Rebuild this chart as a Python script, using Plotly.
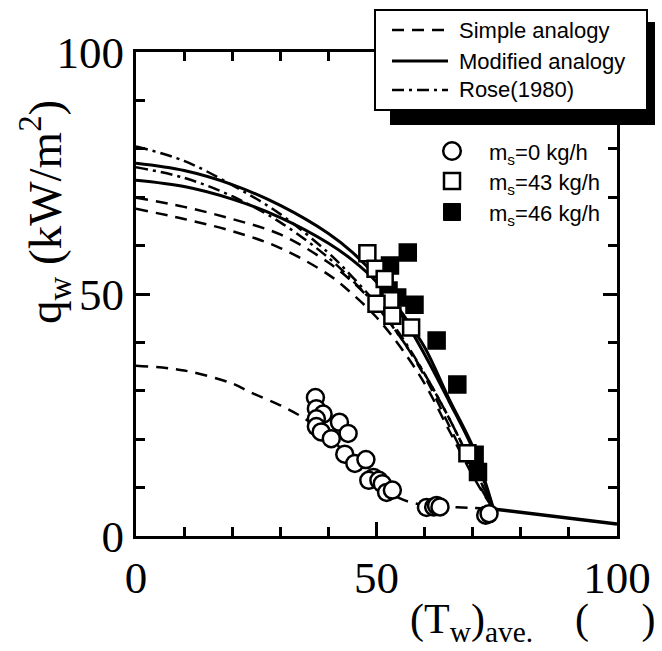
import plotly.graph_objects as go

# ---------------- data ----------------
# upper model curves share this x grid (deg C)
x_up = [0, 10, 20, 30, 40, 45, 50, 55, 60, 65, 70, 72.5, 74.3]
simple_1 = [69.9, 68, 65.5, 62.3, 56.5, 52.5, 47.5, 41, 33, 23, 13, 8.5, 5.6]
simple_2 = [67.6, 65.5, 63, 59.5, 54, 50, 45.2, 39, 31.5, 22, 12.5, 8.3, 5.6]
modified_1 = [77, 75.5, 72.6, 68.3, 62.5, 58.6, 53.5, 46.5, 39, 28.5, 18.5, 11.5, 5.6]
modified_2 = [73.5, 72.2, 69.6, 65.8, 60.5, 57, 52.5, 46, 37.5, 28, 18, 11, 5.6]
rose_1 = [80.5, 77.5, 72.5, 66.5, 58.5, 53.5, 48, 41.5, 33.5, 24.5, 14.5, 9.5, 5.6]
rose_2 = [76.2, 74, 70.2, 64.8, 57.5, 52.8, 47.5, 41, 33.5, 24.5, 14.5, 9.5, 5.6]

# lower simple-analogy curve (m_s = 0)
x_low = [0, 10, 20, 24, 30, 35, 40, 45, 50, 55, 60, 65, 70, 74.3]
simple_low = [35.2, 34.2, 31.5, 29.6, 27, 24.3, 20.5, 15.8, 11.2, 7.7, 6.4, 6.0, 5.8, 5.6]

# common high-temperature branch
tail_x = [74.3, 100]
tail_y = [5.6, 2.5]

# measurements
ms0_x = [37.3, 37.5, 38.9, 37.5, 37.5, 38.5, 42.3, 44.1, 40.6, 43.4, 45.5, 47.8, 49.4, 48.4,
         50.5, 51.2, 52.1, 53.3, 60.4, 61.9, 62.5, 63.2, 72.7, 73.4]
ms0_y = [28.6, 26.3, 25.2, 24.2, 22.6, 21.5, 23.5, 21.2, 20.1, 16.9, 15.0, 15.8, 12.1, 11.5,
         11.5, 10.8, 9.0, 9.5, 5.9, 6.0, 6.3, 6.0, 4.3, 4.6]
ms43_x = [48.1, 49.8, 51.7, 52.9, 50.0, 53.3, 57.2, 68.9]
ms43_y = [58.4, 55.2, 53.1, 48.7, 48.0, 45.5, 43.1, 17.1]
ms46_x = [56.5, 52.8, 52.5, 54.3, 57.9, 62.5, 66.8, 70.4, 71.1]
ms46_y = [58.6, 55.9, 50.7, 49.3, 47.8, 40.4, 31.3, 16.8, 13.2]

line_labels = ["Simple analogy", "Modified analogy", "Rose(1980)"]
marker_labels = ["m<sub>s</sub>=0 kg/h", "m<sub>s</sub>=43 kg/h", "m<sub>s</sub>=46 kg/h"]
x_ticks = [0, 50, 100]
y_ticks = [0, 50, 100]

# ---------------- layout geometry ----------------
W, H = 662, 651
ML, MR, MT, MB = 136, 45, 52, 115
PW, PH = W - ML - MR, H - MT - MB


def fx(px):
    return (px - ML) / PW


def fy(py):
    return (H - MB - py) / PH


SERIF = "Liberation Serif, Times New Roman, serif"
SANS = "Liberation Sans, Arial, sans-serif"
DASH = "12px,8px"
DASHDOT = "12px,5px,3px,5px"

fig = go.Figure()


def curve(x, y, dash, width):
    fig.add_trace(go.Scatter(x=x, y=y, mode="lines", showlegend=False,
                             line=dict(color="black", width=width, dash=dash,
                                       shape="spline", smoothing=1.0),
                             hoverinfo="skip"))


for yy in (simple_1, simple_2):
    curve(x_up, yy, DASH, 2.5)
curve(x_low, simple_low, DASH, 2.5)
for yy in (rose_1, rose_2):
    curve(x_up, yy, DASHDOT, 2.5)
for yy in (modified_1, modified_2):
    curve(x_up, yy, "solid", 3)
fig.add_trace(go.Scatter(x=tail_x, y=tail_y, mode="lines", showlegend=False,
                         line=dict(color="black", width=3.5), hoverinfo="skip"))

fig.add_trace(go.Scatter(x=ms46_x, y=ms46_y, mode="markers", showlegend=False,
                         marker=dict(symbol="square", size=16, color="black",
                                     line=dict(color="black", width=2.5))))
fig.add_trace(go.Scatter(x=ms43_x, y=ms43_y, mode="markers", showlegend=False,
                         marker=dict(symbol="square", size=16, color="white",
                                     line=dict(color="black", width=2.5))))
fig.add_trace(go.Scatter(x=ms0_x, y=ms0_y, mode="markers", showlegend=False,
                         marker=dict(symbol="circle", size=17, color="white",
                                     line=dict(color="black", width=2.5))))

shapes = []
annotations = []

# line legend: shadow + box
shapes.append(dict(type="rect", xref="paper", yref="paper", layer="above",
                   x0=fx(390), x1=fx(655), y0=fy(125), y1=fy(22),
                   fillcolor="black", line=dict(width=0)))
shapes.append(dict(type="rect", xref="paper", yref="paper", layer="above",
                   x0=fx(375), x1=fx(647), y0=fy(110), y1=fy(10),
                   fillcolor="white", line=dict(color="black", width=2)))
row_y = [30, 61, 90]
dashes = [DASH, "solid", DASHDOT]
widths = [2.5, 3, 2.5]
for lab, ry, d, w in zip(line_labels, row_y, dashes, widths):
    shapes.append(dict(type="line", xref="paper", yref="paper", layer="above",
                       x0=fx(392), x1=fx(448), y0=fy(ry), y1=fy(ry),
                       line=dict(color="black", width=w, dash=d)))
    annotations.append(dict(text=lab, xref="paper", yref="paper", x=fx(457), y=fy(ry),
                            xanchor="left", yanchor="middle", showarrow=False,
                            font=dict(family=SANS, size=22, color="black")))

# marker legend
mk_y = [151, 181, 212]
shapes.append(dict(type="circle", xref="paper", yref="paper", layer="above",
                   x0=fx(452 - 8.8), x1=fx(452 + 8.8), y0=fy(mk_y[0] + 8.8), y1=fy(mk_y[0] - 8.8),
                   fillcolor="white", line=dict(color="black", width=2.5)))
shapes.append(dict(type="rect", xref="paper", yref="paper", layer="above",
                   x0=fx(452 - 8), x1=fx(452 + 8), y0=fy(mk_y[1] + 8), y1=fy(mk_y[1] - 8),
                   fillcolor="white", line=dict(color="black", width=2.5)))
shapes.append(dict(type="rect", xref="paper", yref="paper", layer="above",
                   x0=fx(452 - 8.5), x1=fx(452 + 8.5), y0=fy(mk_y[2] + 8.5), y1=fy(mk_y[2] - 8.5),
                   fillcolor="black", line=dict(color="black", width=1)))
for lab, ry in zip(marker_labels, mk_y):
    annotations.append(dict(text=lab, xref="paper", yref="paper", x=fx(487), y=fy(ry + 3),
                            xanchor="left", yanchor="middle", showarrow=False,
                            font=dict(family=SANS, size=22, color="black")))

# axis titles
annotations.append(dict(text="q<sub>w</sub> (kW/m<sup>2</sup>)", xref="paper", yref="paper",
                        x=fx(45), y=fy(212), xanchor="center", yanchor="middle",
                        textangle=-90, showarrow=False,
                        font=dict(family=SERIF, size=47, color="black")))
annotations.append(dict(text="(T<sub>w</sub>)<sub>ave.</sub>    (     )", xref="paper", yref="paper",
                        x=fx(658), y=fy(650), xanchor="right", yanchor="bottom",
                        showarrow=False,
                        font=dict(family=SERIF, size=42, color="black")))

axis_common = dict(range=[0, 100], ticks="inside", ticklen=14, tickwidth=2.5,
                   tickcolor="black", showline=True, linewidth=3, linecolor="black",
                   mirror="ticks", showgrid=False, zeroline=False,
                   tickfont=dict(family=SERIF, size=45, color="black"),
                   minor=dict(dtick=10, ticks="inside", ticklen=9, tickwidth=2.5,
                              tickcolor="black", showgrid=False))

fig.update_layout(
    width=W, height=H,
    margin=dict(l=ML, r=MR, t=MT, b=MB, pad=0),
    paper_bgcolor="white", plot_bgcolor="white",
    xaxis=dict(axis_common, tickvals=x_ticks),
    yaxis=dict(axis_common, tickvals=y_ticks),
    shapes=shapes, annotations=annotations, showlegend=False,
)

fig.write_html("out.html")
